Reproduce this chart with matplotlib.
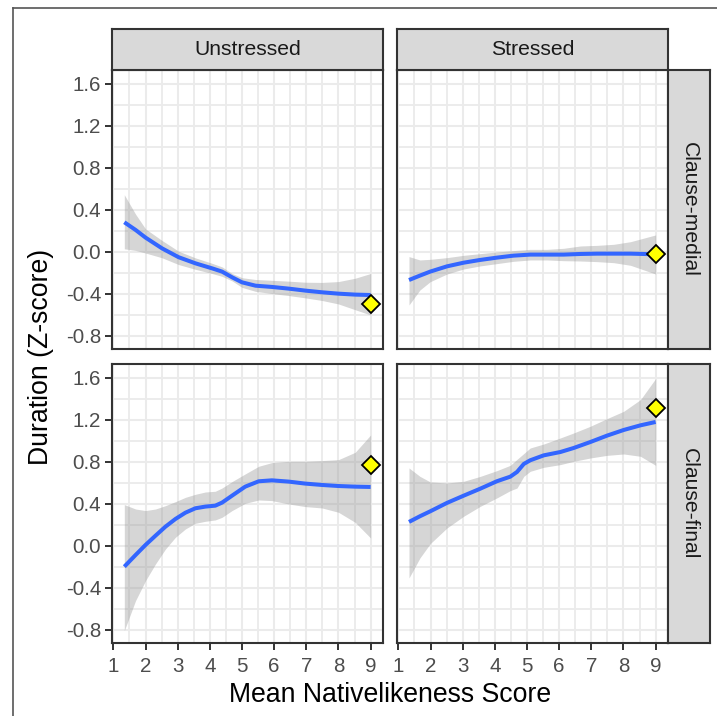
import matplotlib
matplotlib.use("Agg")
import matplotlib.pyplot as plt
from matplotlib.lines import Line2D
from matplotlib.ticker import FixedLocator

plt.rcParams['font.family'] = ['Liberation Sans', 'DejaVu Sans']

# ---------------- data ----------------
col_labels = ["Unstressed", "Stressed"]
row_labels = ["Clause-medial", "Clause-final"]
x_ticks = [1, 2, 3, 4, 5, 6, 7, 8, 9]
y_ticks = [-0.8, -0.4, 0.0, 0.4, 0.8, 1.2, 1.6]
y_tick_labels = ["-0.8", "-0.4", "0.0", "0.4", "0.8", "1.2", "1.6"]

# Unstressed / Clause-medial
um_x = [1.34, 1.69, 2.0, 2.51, 3.03, 3.55, 4.07, 4.38, 4.69, 5.0, 5.42, 5.93, 6.45, 6.97, 7.49, 8.0, 8.52, 9.0]
um_y = [0.283, 0.21, 0.137, 0.035, -0.05, -0.108, -0.156, -0.187, -0.241, -0.289, -0.321, -0.333, -0.349, -0.368, -0.384, -0.397, -0.406, -0.41]
um_lo = [0.03, 0.015, -0.01, -0.055, -0.12, -0.165, -0.205, -0.232, -0.275, -0.337, -0.375, -0.396, -0.415, -0.437, -0.462, -0.495, -0.55, -0.6]
um_hi = [0.545, 0.36, 0.22, 0.11, 0.007, -0.056, -0.108, -0.142, -0.205, -0.245, -0.262, -0.27, -0.278, -0.288, -0.29, -0.282, -0.25, -0.205]
um_point = -0.495

# Stressed / Clause-medial
sm_x = [1.33, 1.67, 1.99, 2.51, 3.03, 3.54, 4.06, 4.58, 5.1, 5.62, 6.14, 6.66, 7.18, 7.7, 8.22, 9.0]
sm_y = [-0.267, -0.225, -0.187, -0.137, -0.102, -0.076, -0.054, -0.035, -0.025, -0.025, -0.025, -0.019, -0.016, -0.016, -0.016, -0.022]
sm_lo = [-0.505, -0.362, -0.283, -0.21, -0.162, -0.133, -0.111, -0.089, -0.076, -0.076, -0.083, -0.086, -0.092, -0.102, -0.127, -0.21]
sm_hi = [-0.044, -0.076, -0.07, -0.054, -0.032, -0.016, 0.0, 0.013, 0.025, 0.025, 0.035, 0.057, 0.063, 0.073, 0.098, 0.162]
sm_point = -0.022

# Unstressed / Clause-final
uf_x = [1.34, 1.69, 2.0, 2.31, 2.62, 2.93, 3.24, 3.55, 3.86, 4.17, 4.38, 4.69, 5.1, 5.52, 5.93, 6.45, 6.97, 7.49, 8.0, 8.52, 9.0]
uf_y = [-0.197, -0.086, 0.01, 0.098, 0.184, 0.257, 0.317, 0.359, 0.375, 0.384, 0.413, 0.479, 0.565, 0.616, 0.625, 0.613, 0.594, 0.581, 0.571, 0.565, 0.562]
uf_lo = [-0.806, -0.52, -0.33, -0.171, -0.029, 0.083, 0.162, 0.216, 0.235, 0.248, 0.273, 0.337, 0.406, 0.438, 0.432, 0.4, 0.375, 0.362, 0.321, 0.225, 0.076]
uf_hi = [0.394, 0.352, 0.337, 0.352, 0.384, 0.422, 0.463, 0.492, 0.514, 0.521, 0.552, 0.613, 0.686, 0.759, 0.794, 0.806, 0.806, 0.813, 0.822, 0.892, 1.057]
uf_point = 0.771

# Stressed / Clause-final
sf_x = [1.33, 1.67, 1.99, 2.51, 3.03, 3.55, 4.06, 4.48, 4.69, 4.9, 5.1, 5.52, 6.04, 6.45, 6.97, 7.49, 8.01, 8.53, 9.0]
sf_y = [0.229, 0.283, 0.33, 0.41, 0.479, 0.546, 0.616, 0.66, 0.705, 0.781, 0.816, 0.863, 0.895, 0.933, 0.99, 1.051, 1.105, 1.149, 1.181]
sf_lo = [-0.305, -0.114, 0.022, 0.171, 0.283, 0.378, 0.457, 0.527, 0.552, 0.663, 0.711, 0.749, 0.775, 0.806, 0.838, 0.863, 0.876, 0.854, 0.768]
sf_hi = [0.743, 0.663, 0.61, 0.6, 0.616, 0.663, 0.717, 0.768, 0.825, 0.88, 0.933, 0.971, 1.029, 1.076, 1.14, 1.213, 1.283, 1.394, 1.594]
sf_point = 1.314

point_x = 9.0

panels = {
    (0, 0): (um_x, um_y, um_lo, um_hi, um_point),
    (0, 1): (sm_x, sm_y, sm_lo, sm_hi, sm_point),
    (1, 0): (uf_x, uf_y, uf_lo, uf_hi, uf_point),
    (1, 1): (sf_x, sf_y, sf_lo, sf_hi, sf_point),
}

# ---------------- layout ----------------
W, H = 717, 716
fig = plt.figure(figsize=(W / 100, H / 100), dpi=100)


def rect(x0, y0, x1, y1):
    return [x0 / W, 1 - y1 / H, (x1 - x0) / W, (y1 - y0) / H]


col_x = [(112, 383), (397, 668)]
row_y = [(70, 349), (364, 643)]
strip_top = (29, 70)
strip_right = (668, 710)

XLIM = (0.957, 9.385)
YLIM = (-0.924, 1.733)
BORDER = '#333333'
GRID = '#EBEBEB'

for (r, c), (xs, ys, lo, hi, pt) in panels.items():
    ax = fig.add_axes(rect(col_x[c][0], row_y[r][0], col_x[c][1], row_y[r][1]))
    ax.set_xlim(*XLIM)
    ax.set_ylim(*YLIM)
    ax.set_facecolor('white')
    ax.xaxis.set_major_locator(FixedLocator(x_ticks))
    ax.xaxis.set_minor_locator(FixedLocator([v + 0.5 for v in x_ticks[:-1]]))
    ax.yaxis.set_major_locator(FixedLocator(y_ticks))
    ax.yaxis.set_minor_locator(FixedLocator([v + 0.2 for v in y_ticks[:-1]]))
    ax.grid(which='major', color=GRID, lw=1.5)
    ax.grid(which='minor', color=GRID, lw=1.3)
    ax.set_axisbelow(True)
    for s in ax.spines.values():
        s.set_color(BORDER)
        s.set_linewidth(1.5)
        s.set_zorder(10)
    ax.tick_params(which='minor', length=0)
    ax.tick_params(which='major', length=4.8, width=1.4, color=BORDER,
                   labelsize=14.8, labelcolor='#4D4D4D')
    ax.tick_params(axis='x', pad=5)
    ax.tick_params(axis='y', pad=3)
    if r == 1:
        ax.set_xticklabels([str(v) for v in x_ticks])
    else:
        ax.tick_params(axis='x', length=0, labelbottom=False)
    if c == 0:
        ax.set_yticklabels(y_tick_labels)
    else:
        ax.tick_params(axis='y', length=0, labelleft=False)

    ax.fill_between(xs, lo, hi, color='#999999', alpha=0.4, lw=0, zorder=2)
    ax.plot(xs, ys, color='#3366FF', lw=2.9, zorder=3, solid_capstyle='butt',
            solid_joinstyle='round')
    ax.plot([point_x], [pt], marker='D', ms=9, mfc='#FFFF00', mec='black',
            mew=1.3, ls='none', zorder=5, clip_on=False)

# strips
for c in range(2):
    sax = fig.add_axes(rect(col_x[c][0], strip_top[0], col_x[c][1], strip_top[1]))
    sax.set_facecolor('#D9D9D9')
    sax.set_xticks([]); sax.set_yticks([])
    for s in sax.spines.values():
        s.set_color(BORDER); s.set_linewidth(1.5)
    sax.text(0.5, 0.5, col_labels[c], ha='center', va='center',
             fontsize=15.2, color='#1A1A1A', transform=sax.transAxes)

for r in range(2):
    sax = fig.add_axes(rect(strip_right[0], row_y[r][0], strip_right[1], row_y[r][1]))
    sax.set_facecolor('#D9D9D9')
    sax.set_xticks([]); sax.set_yticks([])
    for s in sax.spines.values():
        s.set_color(BORDER); s.set_linewidth(1.5)
    sax.text(0.5, 0.5, row_labels[r], ha='center', va='center', rotation=-90,
             fontsize=15.2, color='#1A1A1A', transform=sax.transAxes)

# axis titles
fig.text(390 / W, 1 - 702 / H, "Mean Nativelikeness Score", ha='center',
         va='baseline', fontsize=19.2, color='black')
fig.text(41 / W, 1 - 356.5 / H, "Duration (Z-score)", ha='center', va='center',
         rotation=90, fontsize=19.2, color='black')

# outer frame (top and left edges)
fig.add_artist(Line2D([13 / W, 1.0], [1 - 7.5 / H, 1 - 7.5 / H], color='#555555', lw=1.2))
fig.add_artist(Line2D([13 / W, 13 / W], [0.0, 1 - 7.5 / H], color='#555555', lw=1.2))

fig.savefig("out.png", dpi=100)
